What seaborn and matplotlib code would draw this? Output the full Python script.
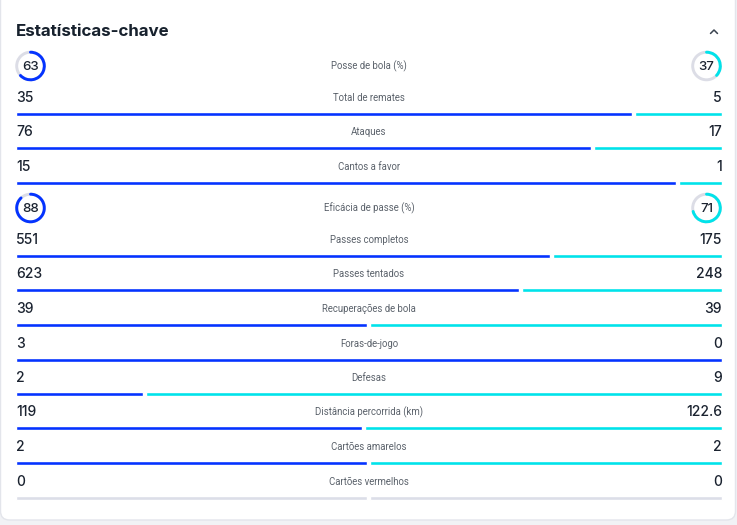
import numpy as np
import pandas as pd
import matplotlib.pyplot as plt
import seaborn as sns
from matplotlib.patches import Arc, FancyBboxPatch

# Key stats (home left, away right)
labels = ["Posse de bola (%)", "Total de remates", "Ataques", "Cantos a favor",
          "Eficácia de passe (%)", "Passes completos", "Passes tentados",
          "Recuperações de bola", "Foras-de-jogo", "Defesas",
          "Distância percorrida (km)", "Cartões amarelos", "Cartões vermelhos"]
home = [63, 35, 76, 15, 88, 551, 623, 39, 3, 2, 119, 2, 0]
away = [37, 5, 17, 1, 71, 175, 248, 39, 0, 9, 122.6, 2, 0]
is_ring = [True, False, False, False, True, False, False, False, False, False, False, False, False]

title = "Estatísticas-chave"

df = pd.DataFrame({"label": labels, "home": home, "away": away, "ring": is_ring})

# layout (pixels)
W, H = 737, 525
row_y = [66, 98, 132, 167, 208, 240, 274, 309, 344, 378, 412, 447, 482]
bar_dy = 16
x0, x1 = 16, 722
gap = 1.5
bar_h = 4.3

BLUE = "#0433ff"
CYAN = "#00e3ea"
TRACK = "#dcdee8"
TXT = "#1b2330"
LBL = "#5b626b"

sns.set_theme(style="white")
plt.rcParams["font.family"] = ["Inter", "DejaVu Sans"]

fig = plt.figure(figsize=(W / 100, H / 100), dpi=100)
fig.patch.set_facecolor("#f1f2f5")
ax = fig.add_axes([0, 0, 1, 1])
ax.set_xlim(0, W)
ax.set_ylim(H, 0)
ax.axis("off")

card = FancyBboxPatch((0.5, -20), 735, 540, boxstyle="round,pad=0,rounding_size=9",
                      facecolor="white", edgecolor="#e3e5eb", linewidth=1.0)
ax.add_patch(card)

ax.text(16, 31.5, title, fontsize=12.2, fontweight="bold", color="#17212d",
        va="center", ha="left")
# collapse chevron
ax.plot([710.5, 714, 717.5], [33.5, 30, 33.5], color="#3a434f", lw=1.1,
        solid_capstyle="round", solid_joinstyle="round")


def fmt(v):
    return f"{v:g}"


def ring(cx, cy, value, color):
    r = 13.8
    ax.add_patch(Arc((cx, cy), 2 * r, 2 * r, theta1=0, theta2=360, color="#dcdde6", lw=2.1))
    # clockwise from top on screen (y axis is inverted)
    ax.add_patch(Arc((cx, cy), 2 * r, 2 * r, theta1=-90, theta2=-90 + 3.6 * value,
                     color=color, lw=2.1, capstyle="round"))
    ax.text(cx, cy + 0.5, fmt(value), fontsize=9.6, fontweight="medium", color=TXT,
            ha="center", va="center")


track_w = x1 - x0
for i, row in df.iterrows():
    y = row_y[i]
    ax.text(369, y, row["label"], fontsize=6.9, color=LBL, ha="center", va="center",
            family=["Roboto", "DejaVu Sans"])
    if row["ring"]:
        ring(30.5, y, row["home"], BLUE)
        ring(706.5, y, row["away"], CYAN)
        continue
    ax.text(x0, y, fmt(row["home"]), fontsize=10, fontweight="medium", color=TXT,
            ha="left", va="center")
    ax.text(x1, y, fmt(row["away"]), fontsize=10, fontweight="medium", color=TXT,
            ha="right", va="center")
    by = y + bar_dy
    tot = row["home"] + row["away"]
    if tot == 0:
        split = x0 + track_w / 2
        ax.barh(by, split - gap - x0, left=x0, height=bar_h, color=TRACK)
        ax.barh(by, x1 - split - gap, left=split + gap, height=bar_h, color=TRACK)
        continue
    split = x0 + track_w * row["home"] / tot
    if row["away"] == 0:
        ax.barh(by, track_w, left=x0, height=bar_h, color=BLUE)
    elif row["home"] == 0:
        ax.barh(by, track_w, left=x0, height=bar_h, color=CYAN)
    else:
        ax.barh(by, split - gap - x0, left=x0, height=bar_h, color=BLUE)
        ax.barh(by, x1 - split - gap, left=split + gap, height=bar_h, color=CYAN)

fig.savefig("out.png", dpi=100, facecolor=fig.get_facecolor())
